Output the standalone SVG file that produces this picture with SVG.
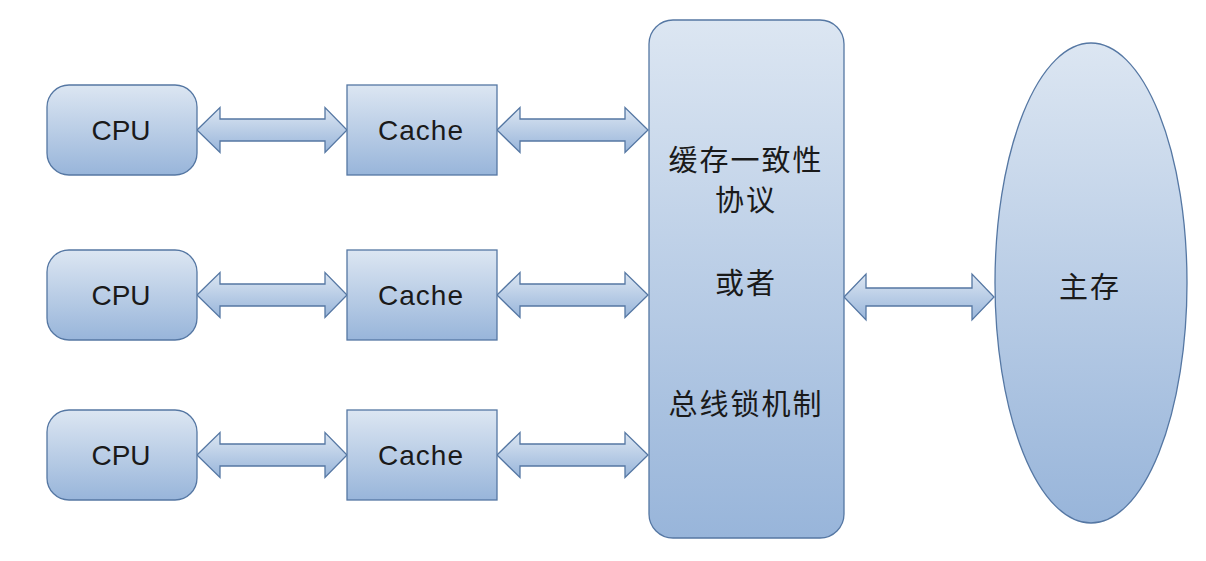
<svg xmlns="http://www.w3.org/2000/svg" width="1206" height="561" viewBox="0 0 1206 561">
<defs>
<linearGradient id="g" x1="0" y1="0" x2="0" y2="1">
<stop offset="0" stop-color="#dce6f2"/>
<stop offset="1" stop-color="#98b5da"/>
</linearGradient>
<style>
.n{fill:url(#g);stroke:#5577a3;stroke-width:1.3}
.a{fill:url(#g);stroke:#5577a3;stroke-width:1.3;stroke-linejoin:miter}
.t{font-family:"Liberation Sans",Arial,sans-serif;font-size:28px;fill:#1a1a1a;text-anchor:middle;dominant-baseline:central}
.c{font-family:"Noto Sans CJK SC","Liberation Sans",sans-serif;font-size:29px;fill:#1a1a1a;text-anchor:middle;dominant-baseline:central;letter-spacing:2px}
</style>
</defs>
<rect width="1206" height="561" fill="#ffffff"/>
<g id="connectors">
<path class="a" d="M197,130 L220,107.5 L220,119 L325,119 L325,107.5 L347,130 L325,152.5 L325,141 L220,141 L220,152.5 Z"/>
<path class="a" d="M497,130 L520,107.5 L520,119 L625,119 L625,107.5 L648,130 L625,152.5 L625,141 L520,141 L520,152.5 Z"/>
<path class="a" d="M197,295 L220,272.5 L220,284 L325,284 L325,272.5 L347,295 L325,317.5 L325,306 L220,306 L220,317.5 Z"/>
<path class="a" d="M497,295 L520,272.5 L520,284 L625,284 L625,272.5 L648,295 L625,317.5 L625,306 L520,306 L520,317.5 Z"/>
<path class="a" d="M197,455 L220,432.5 L220,444 L325,444 L325,432.5 L347,455 L325,477.5 L325,466 L220,466 L220,477.5 Z"/>
<path class="a" d="M497,455 L520,432.5 L520,444 L625,444 L625,432.5 L648,455 L625,477.5 L625,466 L520,466 L520,477.5 Z"/>
<path class="a" d="M844,297 L866,274 L866,288 L972,288 L972,274 L994,297 L972,320 L972,306 L866,306 L866,320 Z"/>
</g>
<g id="cpu1"><rect class="n" x="47" y="85" width="150" height="90" rx="22"/><text class="t" x="121" y="130">CPU</text></g>
<g id="cpu2"><rect class="n" x="47" y="250" width="150" height="90" rx="22"/><text class="t" x="121" y="295">CPU</text></g>
<g id="cpu3"><rect class="n" x="47" y="410" width="150" height="90" rx="22"/><text class="t" x="121" y="455">CPU</text></g>
<g id="cache1"><rect class="n" x="347" y="85" width="150" height="90"/><text class="t" x="421" y="130" letter-spacing="1">Cache</text></g>
<g id="cache2"><rect class="n" x="347" y="250" width="150" height="90"/><text class="t" x="421" y="295" letter-spacing="1">Cache</text></g>
<g id="cache3"><rect class="n" x="347" y="410" width="150" height="90"/><text class="t" x="421" y="455" letter-spacing="1">Cache</text></g>
<g id="protocol">
<rect class="n" x="649" y="20" width="195" height="518" rx="24"/>
<text class="c" x="746" y="158">缓存一致性</text>
<text class="c" x="746" y="198">协议</text>
<text class="c" x="746" y="281">或者</text>
<text class="c" x="746" y="402">总线锁机制</text>
</g>
<g id="memory">
<ellipse class="n" cx="1091" cy="283" rx="96" ry="240"/>
<text class="c" x="1090" y="285">主存</text>
</g>
</svg>
